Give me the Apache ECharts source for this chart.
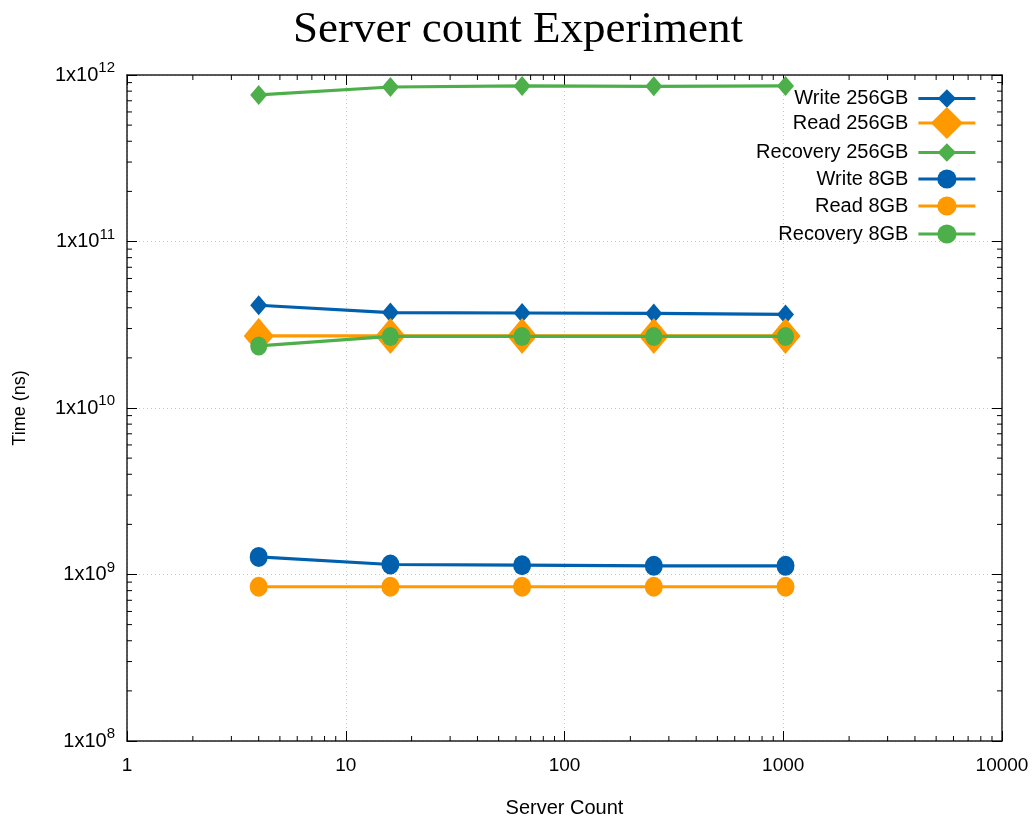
<!DOCTYPE html>
<html><head><meta charset="utf-8">
<script src="https://cdn.jsdelivr.net/npm/echarts@6/dist/echarts.min.js"></script>
<style>html,body{margin:0;padding:0;background:#fff}#c{width:1036px;height:823px}</style>
</head><body><div id="c"></div><script>
// ---- data ----
const serverCounts = [4, 16, 64, 256, 1024];
const write256    = [4.14e10, 3.74e10, 3.72e10, 3.70e10, 3.65e10];
const read256     = [2.71e10, 2.71e10, 2.71e10, 2.71e10, 2.71e10];
const recovery256 = [7.59e11, 8.47e11, 8.60e11, 8.55e11, 8.60e11];
const write8      = [1.276e9, 1.148e9, 1.137e9, 1.127e9, 1.127e9];
const read8       = [8.44e8, 8.44e8, 8.44e8, 8.44e8, 8.44e8];
const recovery8   = [2.36e10, 2.69e10, 2.69e10, 2.69e10, 2.69e10];
const seriesNames = ['Write 256GB', 'Read 256GB', 'Recovery 256GB', 'Write 8GB', 'Read 8GB', 'Recovery 8GB'];
const xTicks = [1, 10, 100, 1000, 10000];
const yTicks = [1e8, 1e9, 1e10, 1e11, 1e12];
const minorMultipliers = [2, 3, 4, 5, 6, 7, 8, 9];

// ---- styling ----
const SANS = '"Liberation Sans", Arial, sans-serif';
const BLUE = '#0060ad', ORANGE = '#ff9900', GREEN = '#4daf4a';
const styles = [
  {color: BLUE,   symbol: 'diamond', size: [17, 20], legendH: 23},
  {color: ORANGE, symbol: 'diamond', size: [30, 36], legendH: 40},
  {color: GREEN,  symbol: 'diamond', size: [17, 20], legendH: 23},
  {color: BLUE,   symbol: 'circle',  size: [18, 20], legendH: 24},
  {color: ORANGE, symbol: 'circle',  size: [18, 20], legendH: 24},
  {color: GREEN,  symbol: 'circle',  size: [17, 19], legendH: 24}
];
const allValues = [write256, read256, recovery256, write8, read8, recovery8];
const legendCenters = [100, 127, 154, 181, 208, 236];

const xMin = xTicks[0], xMax = xTicks[xTicks.length - 1];
const yMin = yTicks[0], yMax = yTicks[yTicks.length - 1];

// minor tick positions (axis decoration)
const minorData = [];
for (let i = 0; i < xTicks.length - 1; i++) minorMultipliers.forEach(m => minorData.push([xTicks[i] * m, yMin, 0]));
for (let i = 0; i < yTicks.length - 1; i++) minorMultipliers.forEach(m => minorData.push([xMin, yTicks[i] * m, 1]));

const lineSeries = seriesNames.map((name, i) => ({
  name, type: 'line', xAxisIndex: 0, yAxisIndex: 0,
  data: serverCounts.map((x, j) => [x, allValues[i][j]]),
  symbol: styles[i].symbol, symbolSize: styles[i].size,
  showAllSymbol: true,
  lineStyle: {color: styles[i].color, width: 3.2},
  itemStyle: {color: styles[i].color},
  emphasis: {disabled: true},
  z: 3 + i, animation: false
}));

const MINOR_LEN = 5;
const minorSeries = {
  type: 'custom', xAxisIndex: 0, yAxisIndex: 0, silent: true, animation: false, z: 10,
  data: minorData,
  renderItem: (params, api) => {
    const kind = api.value(2);
    const st = {stroke: '#000', lineWidth: 1};
    if (kind === 0) {
      const v = api.value(0);
      const b = api.coord([v, yMin]), t = api.coord([v, yMax]);
      return {type: 'group', children: [
        {type: 'line', shape: {x1: b[0], y1: b[1], x2: b[0], y2: b[1] - MINOR_LEN}, style: st},
        {type: 'line', shape: {x1: t[0], y1: t[1], x2: t[0], y2: t[1] + MINOR_LEN}, style: st}
      ]};
    } else {
      const v = api.value(1);
      const l = api.coord([xMin, v]), r = api.coord([xMax, v]);
      return {type: 'group', children: [
        {type: 'line', shape: {x1: l[0], y1: l[1], x2: l[0] + MINOR_LEN, y2: l[1]}, style: st},
        {type: 'line', shape: {x1: r[0], y1: r[1], x2: r[0] - MINOR_LEN, y2: r[1]}, style: st}
      ]};
    }
  }
};

const axisLine = {show: true, lineStyle: {color: '#222', width: 1.5}};
const majorTick = {show: true, inside: true, length: 10, lineStyle: {color: '#000', width: 1}};
const split = {show: true, lineStyle: {color: '#c8c8c8', width: 1, type: [1, 3]}};

const option = {
  backgroundColor: '#fff',
  animation: false,
  title: {
    text: 'Server count Experiment', left: 'center', top: 3,
    textStyle: {fontFamily: '"Liberation Serif", "DejaVu Serif", serif', fontSize: 45, fontWeight: 'normal', color: '#000'}
  },
  grid: {left: 127, right: 34, top: 75, bottom: 80, containLabel: false},
  legend: seriesNames.map((name, i) => ({
    data: [name], right: 59, top: legendCenters[i] - styles[i].legendH / 2,
    orient: 'vertical', align: 'right', itemWidth: 57, itemHeight: styles[i].legendH,
    selectedMode: false, padding: 0,
    lineStyle: {width: 3.2},
    textStyle: {fontFamily: SANS, fontSize: 20, color: '#000', padding: [0, 5, 0, 0]}
  })),
  xAxis: [
    {type: 'log', logBase: 10, min: xMin, max: xMax, position: 'bottom',
     name: 'Server Count', nameLocation: 'middle', nameGap: 57,
     nameTextStyle: {fontFamily: SANS, fontSize: 20, color: '#000'},
     axisLine, axisTick: majorTick, splitLine: split,
     axisLabel: {show: true, margin: 15, fontFamily: SANS, fontSize: 19, color: '#000',
       showMinLabel: true, showMaxLabel: true, formatter: v => String(Math.round(v))}},
    {type: 'log', logBase: 10, min: xMin, max: xMax, position: 'top',
     axisLine, axisTick: majorTick, splitLine: {show: false}, axisLabel: {show: false}}
  ],
  yAxis: [
    {type: 'log', logBase: 10, min: yMin, max: yMax, position: 'left',
     name: 'Time (ns)', nameLocation: 'middle', nameGap: 98, nameRotate: 90,
     nameTextStyle: {fontFamily: SANS, fontSize: 18, color: '#000'},
     axisLine, axisTick: majorTick, splitLine: split,
     axisLabel: {show: true, margin: 12, showMinLabel: true, showMaxLabel: true,
       formatter: v => '{b|1x10}{s|' + Math.round(Math.log10(v)) + '}',
       rich: {
         b: {fontFamily: SANS, fontSize: 20, color: '#000'},
         s: {fontFamily: SANS, fontSize: 15, color: '#000', padding: [0, 0, 14, 0]}
       }}},
    {type: 'log', logBase: 10, min: yMin, max: yMax, position: 'right',
     axisLine, axisTick: majorTick, splitLine: {show: false}, axisLabel: {show: false}}
  ],
  series: [...lineSeries, minorSeries]
};

const chart = echarts.init(document.getElementById('c'), null, {renderer: 'canvas'});
chart.setOption(option);
</script></body></html>
